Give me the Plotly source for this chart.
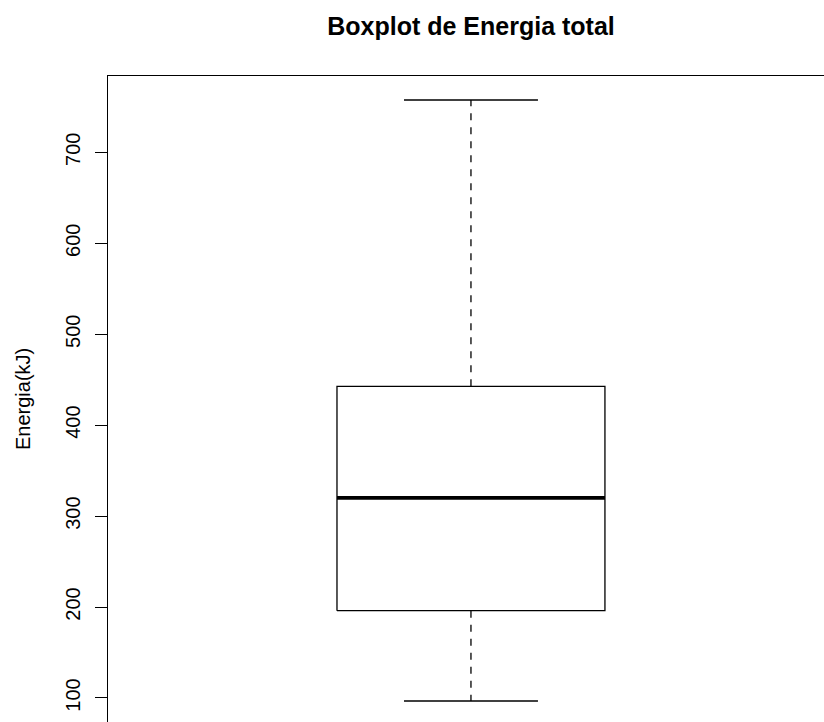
import plotly.graph_objects as go

# Five-number summary of "Energia total" (kJ)
stat_names = ["minimo", "q1", "mediana", "q3", "maximo"]
stat_values = [96.7, 196.0, 320.0, 442.7, 757.5]
y_ticks = [100, 200, 300, 400, 500, 600, 700]
y_tick_labels = ["100", "200", "300", "400", "500", "600", "700"]

s = dict(zip(stat_names, stat_values))

FONT = "Liberation Sans, Arial, sans-serif"
center = 1.0
half_box = 0.2
half_staple = 0.1

fig = go.Figure()
line = dict(color="black", width=1.3)
# box
fig.add_trace(go.Scatter(
    x=[center - half_box, center + half_box, center + half_box, center - half_box, center - half_box],
    y=[s["q1"], s["q1"], s["q3"], s["q3"], s["q1"]],
    mode="lines", line=line, hoverinfo="skip"))
# median
fig.add_trace(go.Scatter(
    x=[center - half_box, center + half_box], y=[s["mediana"], s["mediana"]],
    mode="lines", line=dict(color="black", width=3.6), hoverinfo="skip"))
# whiskers (dashed)
for a, b in [("q3", "maximo"), ("q1", "minimo")]:
    fig.add_trace(go.Scatter(
        x=[center, center], y=[s[a], s[b]], mode="lines",
        line=dict(color="black", width=1.3, dash="7px,7px"), hoverinfo="skip"))
# staples
for k in ["maximo", "minimo"]:
    fig.add_trace(go.Scatter(
        x=[center - half_staple, center + half_staple], y=[s[k], s[k]],
        mode="lines", line=line, hoverinfo="skip"))

fig.update_layout(
    width=824, height=722,
    margin=dict(l=108, r=0, t=76, b=0),
    paper_bgcolor="white", plot_bgcolor="white",
    showlegend=False,
    font=dict(family=FONT, size=20, color="black"),
    title=dict(text="<b>Boxplot de Energia total</b>",
               font=dict(family=FONT, size=25, color="black"),
               x=471 / 824, xref="container", xanchor="center",
               y=1 - 26 / 722, yref="container", yanchor="middle"),
    xaxis=dict(range=[0.4582, 1.527], side="top", showline=True, linecolor="black",
               linewidth=1.3, showticklabels=False, ticks="", showgrid=False,
               zeroline=False, mirror=False),
    yaxis=dict(range=[73.6, 783.9], showline=True, linecolor="black", linewidth=1.3,
               ticks="outside", ticklen=12, tickwidth=1.3, tickcolor="black",
               tickvals=y_ticks, ticktext=y_tick_labels, tickangle=-90,
               ticklabelstandoff=7,
               tickfont=dict(family=FONT, size=20, color="black"),
               showgrid=False, zeroline=False),
    annotations=[dict(text="Energia(kJ)", textangle=-90, xref="paper", yref="paper",
                      x=(23 - 108) / 716, y=0.5, xanchor="center", yanchor="middle",
                      showarrow=False, font=dict(family=FONT, size=20, color="black"))],
)

fig.write_html("out.html")
